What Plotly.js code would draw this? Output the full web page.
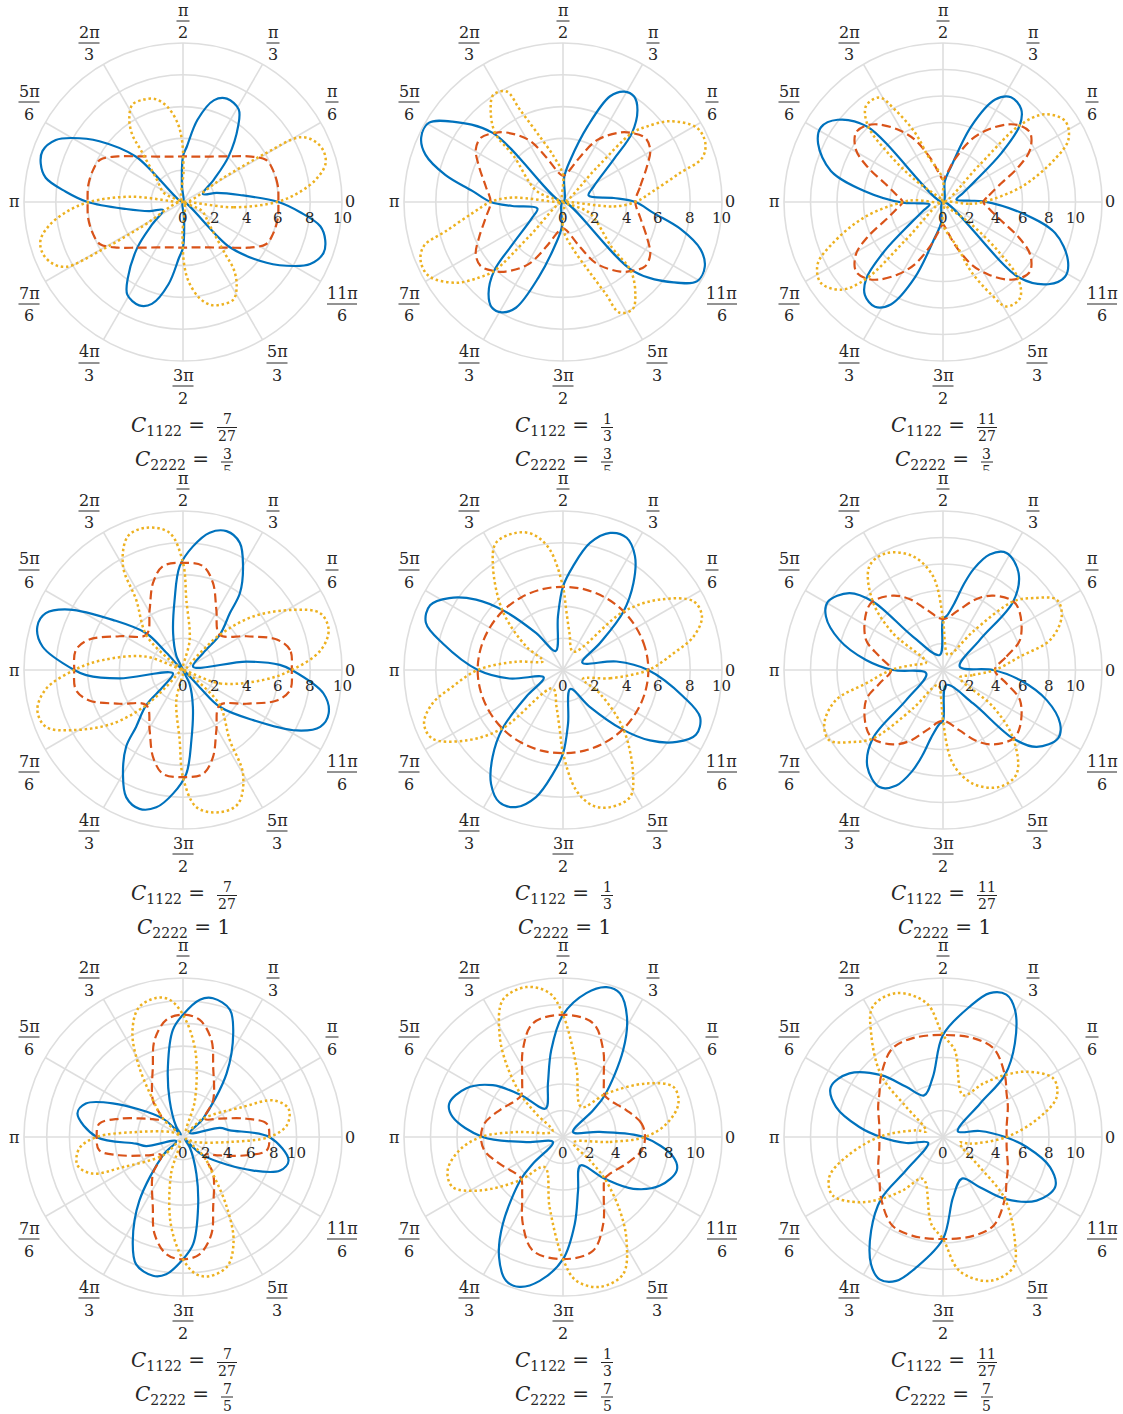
<!DOCTYPE html>
<html>
<head>
<meta charset="utf-8">
<script src="https://cdn.plot.ly/plotly-3.0.1.min.js"></script>
<style>
html, body { margin: 0; padding: 0; background: #fff; }
#chart { width: 1123px; height: 1414px; }
</style>
</head>
<body>
<div id="chart"></div>
<script>
// each curve is read as [theta (deg), r] over half a turn; the other half is the same shape turned by 180 deg
const BLUE_1 = [[-45,0],[-44,4.1],[-36,6.5],[-30,8.05],[-26,8.9],[-20,9.4],[-15,9.26],[-10,8.77],[-5,7.4],[0,6.0],[7,3.6],[15,2.2],[22,1.35],[36,2.4],[45,4.06],[54,5.9],[59,6.8],[67,7.06],[73,6.7],[80,5.25],[86,3.5],[90,2.87],[94,1.0]];
const ORANGE_1 = [[0,6.0],[10,6.05],[20,6.0],[27,5.85],[35,5.0],[45,4.06],[60,3.3],[75,2.95],[90,2.87],[105,2.95],[120,3.3],[135,4.06],[145,5.0],[153,5.85],[160,6.0],[170,6.05]];
const YELLOW_1 = [[-10,0],[-6,3.2],[0,5.9],[5,7.4],[10,8.55],[15,9.28],[20,9.4],[25,9.1],[29,8.4],[30.5,6.0],[31,3.0],[31.5,0],[89,2.0],[91,3.9],[94,5.0],[99.5,6.1],[105,6.7],[111,6.9],[117.5,6.9],[123,6.2],[127,5.3],[129,4.25],[139,2.2],[155,1.3]];

const BLUE_2 = [[-45,0],[-44.5,6.2],[-36,8.6],[-30.5,9.8],[-24.5,9.8],[-19,9.15],[-13,7.6],[-7,5.75],[0,4.55],[4.5,3.2],[14,1.66],[27,2.17],[40,4.15],[45,6.13],[51,7.44],[56,8.0],[61,7.94],[66,7.28],[72,5.0],[80,2.7],[87,1.6]];
const ORANGE_2 = [[0,4.55],[11.5,4.96],[23,5.74],[31,6.4],[38,6.56],[45,6.13],[50.5,5.67],[61,4.47],[69,3.07],[82,1.84],[90,1.65],[98,1.84],[111,3.07],[119,4.47],[129.5,5.67],[135,6.13],[142,6.56],[149,6.4],[157,5.74],[168.5,4.96]];
const YELLOW_2 = [[-10,0],[-5,3.2],[0,4.55],[7,5.74],[14,7.6],[17.5,9.17],[22.5,9.69],[29,9.63],[37,8.44],[42,7.1],[45,6.13],[45.5,3.0],[46,0],[90,1.7],[101.5,2.93],[110.5,4.64],[115,6.4],[117,7.8],[123,8.04],[128,7.39],[134.5,6.1],[137,4.23],[157.7,1.77]];

const BLUE_3 = [[-45,0],[-44.8,8.09],[-38,10.08],[-31.5,10.8],[-25,10.4],[-15.5,8.78],[-8,6.0],[1,3.03],[3,1.9],[10,1.03],[24,1.66],[33,2.86],[40,5.77],[45,8.2],[50,9.17],[57,9.43],[63,8.68],[69.5,6.12],[77,2.77],[85,1.57]];
const ORANGE_3 = [[0,3.05],[8,3.5],[16,4.33],[25,6.3],[31,7.67],[38.5,8.4],[44.5,8.2],[50,7.65],[58,6.45],[65.5,5.19],[74.6,3.33],[82,2.2],[90,1.7],[98,2.2],[105.4,3.33],[114.5,5.19],[122,6.45],[130,7.65],[135.5,8.2],[141.5,8.4],[149,7.67],[155,6.3],[164,4.33],[172,3.5]];
const YELLOW_3 = [[-10,0],[-4,2.0],[0,3.03],[11,6.05],[21,9.05],[26.5,10.58],[33.5,11.06],[40.7,10.15],[45,8.2],[45.5,4.0],[46,0],[90,1.7],[108,3.64],[112,5.65],[117.6,7.9],[121.3,9.23],[128.7,9.29],[134.5,8.1],[138.3,5.58],[141.8,2.73]];

const BLUE_4 = [[-52,0],[-46,1.5],[-45,3.27],[-35.5,5.43],[-28,8.1],[-22.5,9.34],[-16.6,9.56],[-9.5,8.96],[0,6.84],[3,6.1],[7.5,4.03],[18,0.67],[40,1.64],[43.7,3.2],[50.5,4.64],[53.5,6.02],[60,7.55],[66,8.77],[72.6,9.15],[79,8.8],[85.4,7.8],[91.8,6.53],[96.8,4.45],[105,2.4],[115,1.0]];
const ORANGE_4 = [[0,6.84],[10.6,6.85],[18,6.2],[28,4.52],[44,3.2],[61,4.33],[71,5.79],[79,6.65],[90,6.74],[101,6.65],[109,5.79],[119,4.33],[136,3.2],[152,4.52],[162,6.2],[169.4,6.85]];
const YELLOW_4 = [[-30,0],[-20,2.46],[-7,5.1],[0,6.84],[8,8.72],[15.4,9.5],[22.5,9.34],[28.6,7.9],[37.3,5.56],[43.7,3.2],[45,1.5],[46,0],[77.5,1.94],[87.3,4.43],[90,6.74],[95.6,8.67],[104.5,9.24],[112.4,9.1],[120,7.55],[123.7,5.3],[136.3,3.2],[143,1.05]];

const BLUE_5 = [[21,1.3],[36,2.86],[44,5.28],[51,7.04],[57.7,8.47],[64.3,9.23],[71,9.12],[78,8.17],[84.5,6.55],[90,5.25],[95.4,3.38],[111,1.28],[126,2.86],[135,5.28],[141,7.04],[147.7,8.47],[154,9.3],[161,9.12],[167.5,7.76],[180,5.35],[189,3.41]];
const ORANGE_5 = [[0,5.37],[15,5.35],[30,5.32],[45,5.3],[60,5.27],[75,5.25],[90,5.23],[105,5.25],[120,5.27],[135,5.3],[150,5.32],[165,5.35]];
const YELLOW_5 = [[-24,1.37],[-10,3.0],[0,5.37],[8.6,7.03],[14.4,8.48],[21,9.36],[27.7,9.28],[36,7.54],[44,5.28],[61,1.32],[80,2.35],[87,3.8],[90,5.22],[96.3,7.63],[102.5,8.74],[109,9.12],[117.8,9.04],[124,7.88],[135.8,5.28],[147.5,2.74]];

const BLUE_6 = [[11.3,1.29],[39.3,3.59],[44.3,7.41],[52,9.27],[61.5,10.05],[68,9.4],[73,8.0],[76.5,6.6],[80,5.2],[86,4.1],[90,3.84],[102.5,1.16],[132,3.4],[135.7,7.41],[140.6,9.15],[149.3,10.1],[155.4,9.72],[163.8,8.15],[172.6,5.86],[180,3.79]];
const ORANGE_6 = [[0,3.91],[12,4.9],[21.4,6.24],[36.5,7.22],[44.3,7.41],[56,6.77],[65,5.9],[75,4.7],[90,3.84],[105,4.7],[115,5.9],[124,6.77],[135.7,7.41],[143.5,7.22],[158.6,6.24],[168,4.9]];
const YELLOW_6 = [[-24,1.4],[-9.5,2.3],[0,3.91],[9.9,5.9],[15.7,8.4],[24.3,9.83],[31.7,10.09],[38.5,8.72],[44.3,7.41],[52,3.69],[71.6,1.2],[86.8,2.28],[88.5,3.0],[90,3.84],[96,7.1],[104.8,8.88],[115.9,9.8],[125.4,9.6],[135.7,7.41],[143.7,4.7]];

const BLUE_7 = [[-50,0.3],[-42.5,2.4],[-25.5,6.86],[-19,9.05],[-12.5,9.52],[0,7.6],[8.1,4.17],[13.8,3.34],[31,0.7],[42.5,2.4],[55.6,6.8],[64.2,10.16],[69.8,11.95],[77.8,12.5],[83,12.18],[90,10.77],[95.4,9.48],[102.1,6.34],[110,3.45],[123.7,1.06]];
const ORANGE_7 = [[0,7.6],[9,7.47],[16,5.84],[26.6,3.63],[40,2.5],[50.7,4.19],[66.8,6.74],[73.7,8.91],[82,10.43],[90,10.77],[98,10.43],[106.3,8.91],[113.2,6.74],[129.3,4.19],[140,2.5],[153.4,3.63],[164,5.84],[171,7.47]];
const YELLOW_7 = [[-32,0.3],[-23,1.1],[-6,4.15],[0,7.6],[6.4,9.2],[15,9.62],[22,8.6],[26.6,5.94],[42.5,2.4],[55,0.5],[72,3.4],[82,7.74],[90,10.77],[95.6,12.15],[101,12.47],[109,12.03],[116,10.16],[122,7.29],[129,4.19],[137.5,2.4]];

const BLUE_8 = [[26.6,0.85],[41.6,3.04],[45,4.46],[55.3,7.98],[62,10.28],[68.4,11.67],[73.8,11.78],[80.8,11.0],[90,9.22],[97.7,6.62],[105.7,4.2],[121.5,2.52],[135,4.46],[143.6,6.59],[153.4,8.19],[163.6,8.95],[169.7,8.47],[180,6.06],[187.8,2.8]];
const ORANGE_8 = [[0,6.19],[9.7,6.02],[22.8,5.2],[38,4.5],[45,4.46],[55,5.37],[65.2,7.23],[75.2,8.88],[90,9.22],[104.8,8.88],[114.8,7.23],[125,5.37],[135,4.46],[142,4.5],[157.2,5.2],[170.3,6.02]];
const YELLOW_8 = [[-28,0.9],[-6,3.56],[0,6.19],[7.4,7.9],[16.2,9.07],[24.4,9.15],[32.6,7.5],[45,4.64],[58.6,2.66],[79.2,5.4],[90,9.22],[95.3,10.9],[103.8,11.65],[113.7,11.3],[121.5,9.18],[127.7,7.02],[135,4.46],[139,2.7]];

const BLUE_9 = [[21,1.2],[42,3.75],[45,6.6],[52.5,8.91],[60.5,11.03],[66,11.76],[72,11.42],[78.4,10.05],[90,7.7],[99.5,4.61],[114.5,3.45],[126.3,4.7],[135,6.6],[145.8,8.54],[156,9.27],[164.3,8.39],[173.2,6.36],[180,4.7],[189.3,2.8]];
const ORANGE_9 = [[0,4.8],[10,4.88],[25,5.4],[35,5.85],[45,6.6],[60,7.69],[73,7.8],[90,7.7],[107,7.8],[120,7.69],[135,6.6],[145,5.85],[155,5.4],[170,4.88]];
const YELLOW_9 = [[-18,1.33],[-14,2.08],[0,4.8],[11.7,7.48],[19.4,9.1],[27.9,9.43],[38,8.0],[45,6.6],[53,5.05],[64.4,3.5],[82.3,6.62],[90,7.7],[97,10.18],[108,11.42],[118.3,11.18],[124.7,9.53],[135,6.6],[140.7,3.59],[152,1.6]];

const BLUES = [BLUE_1, BLUE_2, BLUE_3, BLUE_4, BLUE_5, BLUE_6, BLUE_7, BLUE_8, BLUE_9];
const ORANGES = [ORANGE_1, ORANGE_2, ORANGE_3, ORANGE_4, ORANGE_5, ORANGE_6, ORANGE_7, ORANGE_8, ORANGE_9];
const YELLOWS = [YELLOW_1, YELLOW_2, YELLOW_3, YELLOW_4, YELLOW_5, YELLOW_6, YELLOW_7, YELLOW_8, YELLOW_9];

const R_MAX = [10, 10, 12, 10, 10, 12, 14, 12, 12];
const R_LABELS = [0, 2, 4, 6, 8, 10];
const C1122 = ['7/27', '1/3', '11/27'];   // by column
const C2222 = ['3/5', '1', '7/5'];        // by row
const ANGLE_NUM = ['0', 'π', 'π', 'π', '2π', '5π', 'π', '7π', '4π', '3π', '5π', '11π'];
const ANGLE_DEN = ['', '6', '3', '2', '3', '6', '', '6', '3', '2', '3', '6'];

const W = 1123, H = 1414;
const CX = [183, 563, 943];
const CY = [202, 670, 1137];
const R_PX = 159;
const FONT = '"DejaVu Serif", "Liberation Serif", serif';
const TXT = '#262626';
const GRID = '#dedede';
// label centres relative to the plot centre, in pixels (y down)
const ANGLE_POS = [[167,0],[149,-100],[90,-159],[0,-181],[-94,-159],[-154,-100],[-169,0],[-154,102],[-94,161],[0,184],[94,161],[159,102]];

function fullCurve(half) {
    const th = [], r = [];
    half.forEach(p => { th.push(p[0]); r.push(p[1]); });
    half.forEach(p => { th.push(p[0] + 180); r.push(p[1]); });
    th.push(half[0][0]);
    r.push(half[0][1]);
    return { th, r };
}

function px(x) { return x / W; }
function py(y) { return 1 - y / H; }

const traces = [];
const annotations = [];
const shapes = [];
const layout = {
    width: W,
    height: H,
    margin: { l: 0, r: 0, t: 0, b: 0 },
    paper_bgcolor: 'white',
    showlegend: false,
    font: { family: FONT, color: TXT }
};

function addText(x, y, text, size, anchor) {
    annotations.push({
        x: px(x), y: py(y), xref: 'paper', yref: 'paper',
        text: text, showarrow: false,
        xanchor: anchor || 'center', yanchor: 'middle',
        font: { family: FONT, size: size, color: TXT }
    });
}

function addBar(x, y, w) {
    shapes.push({
        type: 'line', xref: 'paper', yref: 'paper',
        x0: px(x - w / 2), x1: px(x + w / 2), y0: py(y), y1: py(y),
        line: { color: TXT, width: 1 }
    });
}

// white strip that hides the bottom of the caption above, like the next axes do in the original
function addCover(x0, x1, y0, y1) {
    annotations.push({
        x: px((x0 + x1) / 2), y: py((y0 + y1) / 2), xref: 'paper', yref: 'paper',
        text: ' ', showarrow: false, xanchor: 'center', yanchor: 'middle',
        width: x1 - x0, height: y1 - y0, bgcolor: 'white', borderpad: 0,
        font: { size: 4 }
    });
}

for (let k = 0; k < 9; k++) {
    const row = Math.floor(k / 3), col = k % 3;
    const cx = CX[col], cy = CY[row];
    const name = k === 0 ? 'polar' : 'polar' + (k + 1);
    const rmax = R_MAX[k];
    const scale = R_PX / rmax;

    if (row === 1) addCover(cx - 75, cx + 75, CY[0] + 269, CY[0] + 276);

    const tickvals = [];
    for (let v = 0; v < rmax; v += 2) tickvals.push(v);

    layout[name] = {
        domain: { x: [px(cx - R_PX), px(cx + R_PX)], y: [py(cy + R_PX), py(cy - R_PX)] },
        bgcolor: 'rgba(0,0,0,0)',
        radialaxis: {
            range: [0, rmax], tickmode: 'array', tickvals: tickvals,
            showticklabels: false, showline: false, ticks: '', angle: 0,
            gridcolor: GRID, gridwidth: 1.6
        },
        angularaxis: {
            tickmode: 'linear', tick0: 0, dtick: 30, showticklabels: false, ticks: '',
            gridcolor: GRID, gridwidth: 1.6, showline: true, linecolor: GRID, linewidth: 1.6
        }
    };

    const styles = [
        [BLUES[k], '#0072BD', 'solid', 2.2],
        [ORANGES[k], '#D95319', '9px,4.5px', 2.2],
        [YELLOWS[k], '#EDB120', '2.5px,2.8px', 2.5]
    ];
    styles.forEach(s => {
        const c = fullCurve(s[0]);
        traces.push({
            type: 'scatterpolar', mode: 'lines', subplot: name,
            r: c.r, theta: c.th, hoverinfo: 'skip',
            line: { color: s[1], width: s[3], dash: s[2], shape: 'spline', smoothing: 1 }
        });
    });

    // radial values under the 0 spoke
    R_LABELS.forEach(v => addText(cx + v * scale, cy + 16, String(v), 15));

    // angle labels as stacked fractions
    ANGLE_NUM.forEach((num, i) => {
        const x = cx + ANGLE_POS[i][0], y = cy + ANGLE_POS[i][1];
        if (!ANGLE_DEN[i]) {
            addText(x, y, num, 16);
        } else {
            addText(x, y - 11, num, 16);
            addText(x, y + 12, ANGLE_DEN[i], 16);
            addBar(x, y, num.length === 1 ? 13 : (num.length === 2 ? 21 : 30));
        }
    });

    // two-line caption under each plot
    const lines = [['1122', C1122[col], 225.5], ['2222', C2222[row], 260]];
    lines.forEach(l => {
        const parts = l[1].split('/');
        const lhs = '<i>C</i><sub>' + l[0] + '</sub> =';
        if (parts.length === 2) {
            const fw = Math.max(parts[0].length, parts[1].length) > 1 ? 20 : 12;
            const fx = cx + 44;
            addText(fx - fw / 2 - 10, cy + l[2] - 2, lhs, 20, 'right');
            addText(fx, cy + l[2] - 8.5, parts[0], 14);
            addText(fx, cy + l[2] + 8.5, parts[1], 14);
            addBar(fx, cy + l[2], fw);
        } else {
            addText(cx + 1, cy + l[2] - 2, lhs + ' ' + l[1], 20);
        }
    });
}

layout.annotations = annotations;
layout.shapes = shapes;

Plotly.newPlot('chart', traces, layout, { staticPlot: true, displayModeBar: false });
</script>
</body>
</html>
